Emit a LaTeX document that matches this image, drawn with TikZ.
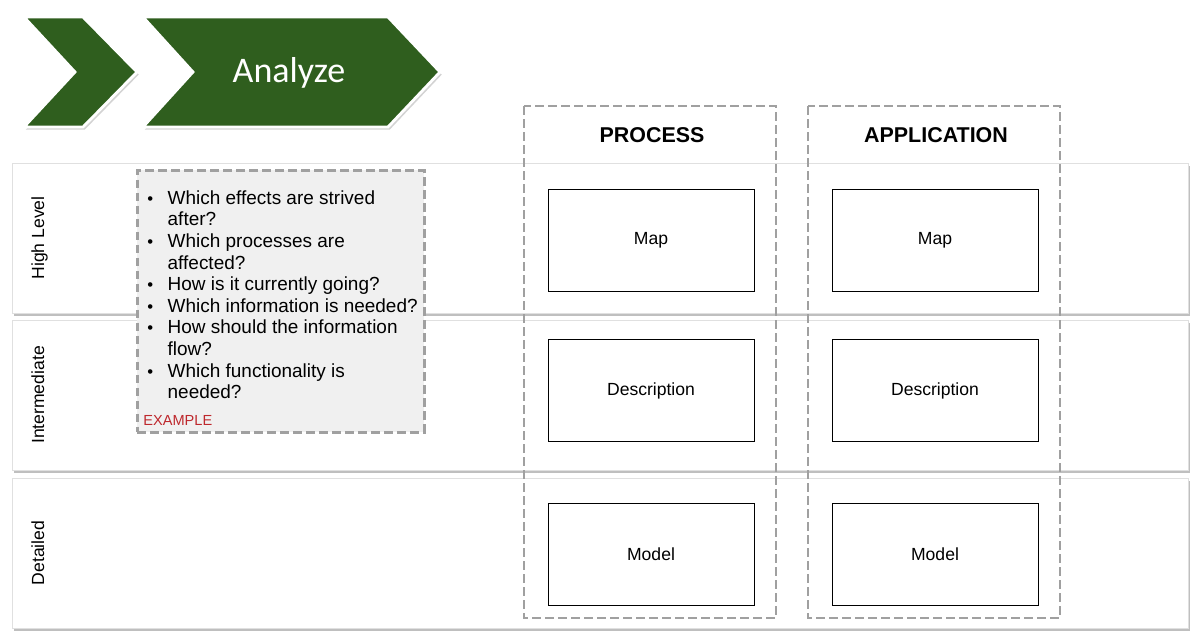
\documentclass[tikz,border=0pt]{standalone}
\usepackage{fontspec}
\setmainfont{Liberation Sans}
\newfontfamily\chevronfont{Carlito}
\usetikzlibrary{shadows,positioning}
\definecolor{darkgreen}{RGB}{47,94,30}
\definecolor{dashgray}{RGB}{160,160,160}
\definecolor{boxgray}{RGB}{240,240,240}
\definecolor{exred}{RGB}{190,40,45}
\tikzset{
  band/.style={fill=white, draw=black!12, line width=0.4pt,
    drop shadow={shadow xshift=0.9pt, shadow yshift=-1.5pt, opacity=0.5}},
  rowlabel/.style={rotate=90, anchor=base, font=\fontsize{10}{12}\selectfont},
  column/.style={draw=dashgray, line width=1.5pt, dash pattern=on 5pt off 2.4pt},
  itembox/.style={draw=black, line width=0.5pt, fill=white, minimum width=4.12cm,
    minimum height=2.04cm, font=\fontsize{10}{12}\selectfont},
  header/.style={font=\bfseries\fontsize{12.2}{14}\selectfont},
  chevron/.style={fill=darkgreen, draw=white, line width=1.6pt,
    drop shadow={shadow xshift=1pt, shadow yshift=-1.5pt, opacity=0.35}}
}
\newcommand{\qbullet}{{\fontsize{9.5}{9.5}\selectfont\textbullet}}

\begin{document}
\begin{tikzpicture}[x=0.02cm, y=-0.02cm]
    \useasboundingbox (0,0) rectangle (1200,639);

    % Chevrons
    \draw[chevron] (24,17) -- (83,17) -- (137,72) -- (83,127) -- (24,127) -- (75,72) -- cycle;
    \draw[chevron] (143,17) -- (388,17) -- (440,72) -- (388,127) -- (143,127) -- (193,72) -- cycle;
    \node[anchor=base, text=white, font=\chevronfont\fontsize{20.5}{24}\selectfont] (analyze) at (289,82) {Analyze};

    % Level bands
    \draw[band] (12,163) rectangle (1188,313);
    \draw[band] (12,320) rectangle (1188,470);
    \draw[band] (12,478) rectangle (1188,628);
    \node[rowlabel] (high) at (44,238) {High Level};
    \node[rowlabel] (inter) at (44,395) {Intermediate};
    \node[rowlabel] (detail) at (44,553) {Detailed};

    % Columns
    \draw[column] (524,106) rectangle (776,618);
    \draw[column] (808,106) rectangle (1060,618);
    \node[header] (process) at (652,135) {PROCESS};
    \node[header] (application) at (936,135) {APPLICATION};

    % Process boxes
    \node[itembox] (pmap) at (651,240) {Map};
    \node[itembox] (pdesc) at (651,390.5) {Description};
    \node[itembox] (pmodel) at (651,554) {Model};
    % Application boxes
    \node[itembox] (amap) at (935,240) {Map};
    \node[itembox] (adesc) at (935,390.5) {Description};
    \node[itembox] (amodel) at (935,554) {Model};

    % Example questions
    \node[column, fill=boxgray, anchor=north west, minimum width=5.74cm, minimum height=5.24cm] (questions) at (136,169) {};
    \node[anchor=north west, inner sep=0pt, font=\fontsize{10.8}{12.3}\selectfont] (list) at (147,188.7) {%
      \begin{tabular}{@{}l@{\hspace{0.29cm}}l@{}}
        \qbullet & Which effects are strived\\
                 & after?\\
        \qbullet & Which processes are\\
                 & affected?\\
        \qbullet & How is it currently going?\\
        \qbullet & Which information is needed?\\
        \qbullet & How should the information\\
                 & flow?\\
        \qbullet & Which functionality is\\
                 & needed?
      \end{tabular}};
    \node[anchor=base west, inner sep=0pt, text=exred, font=\fontsize{8.3}{10}\selectfont] (example) at (143,425) {EXAMPLE};
\end{tikzpicture}
\end{document}
